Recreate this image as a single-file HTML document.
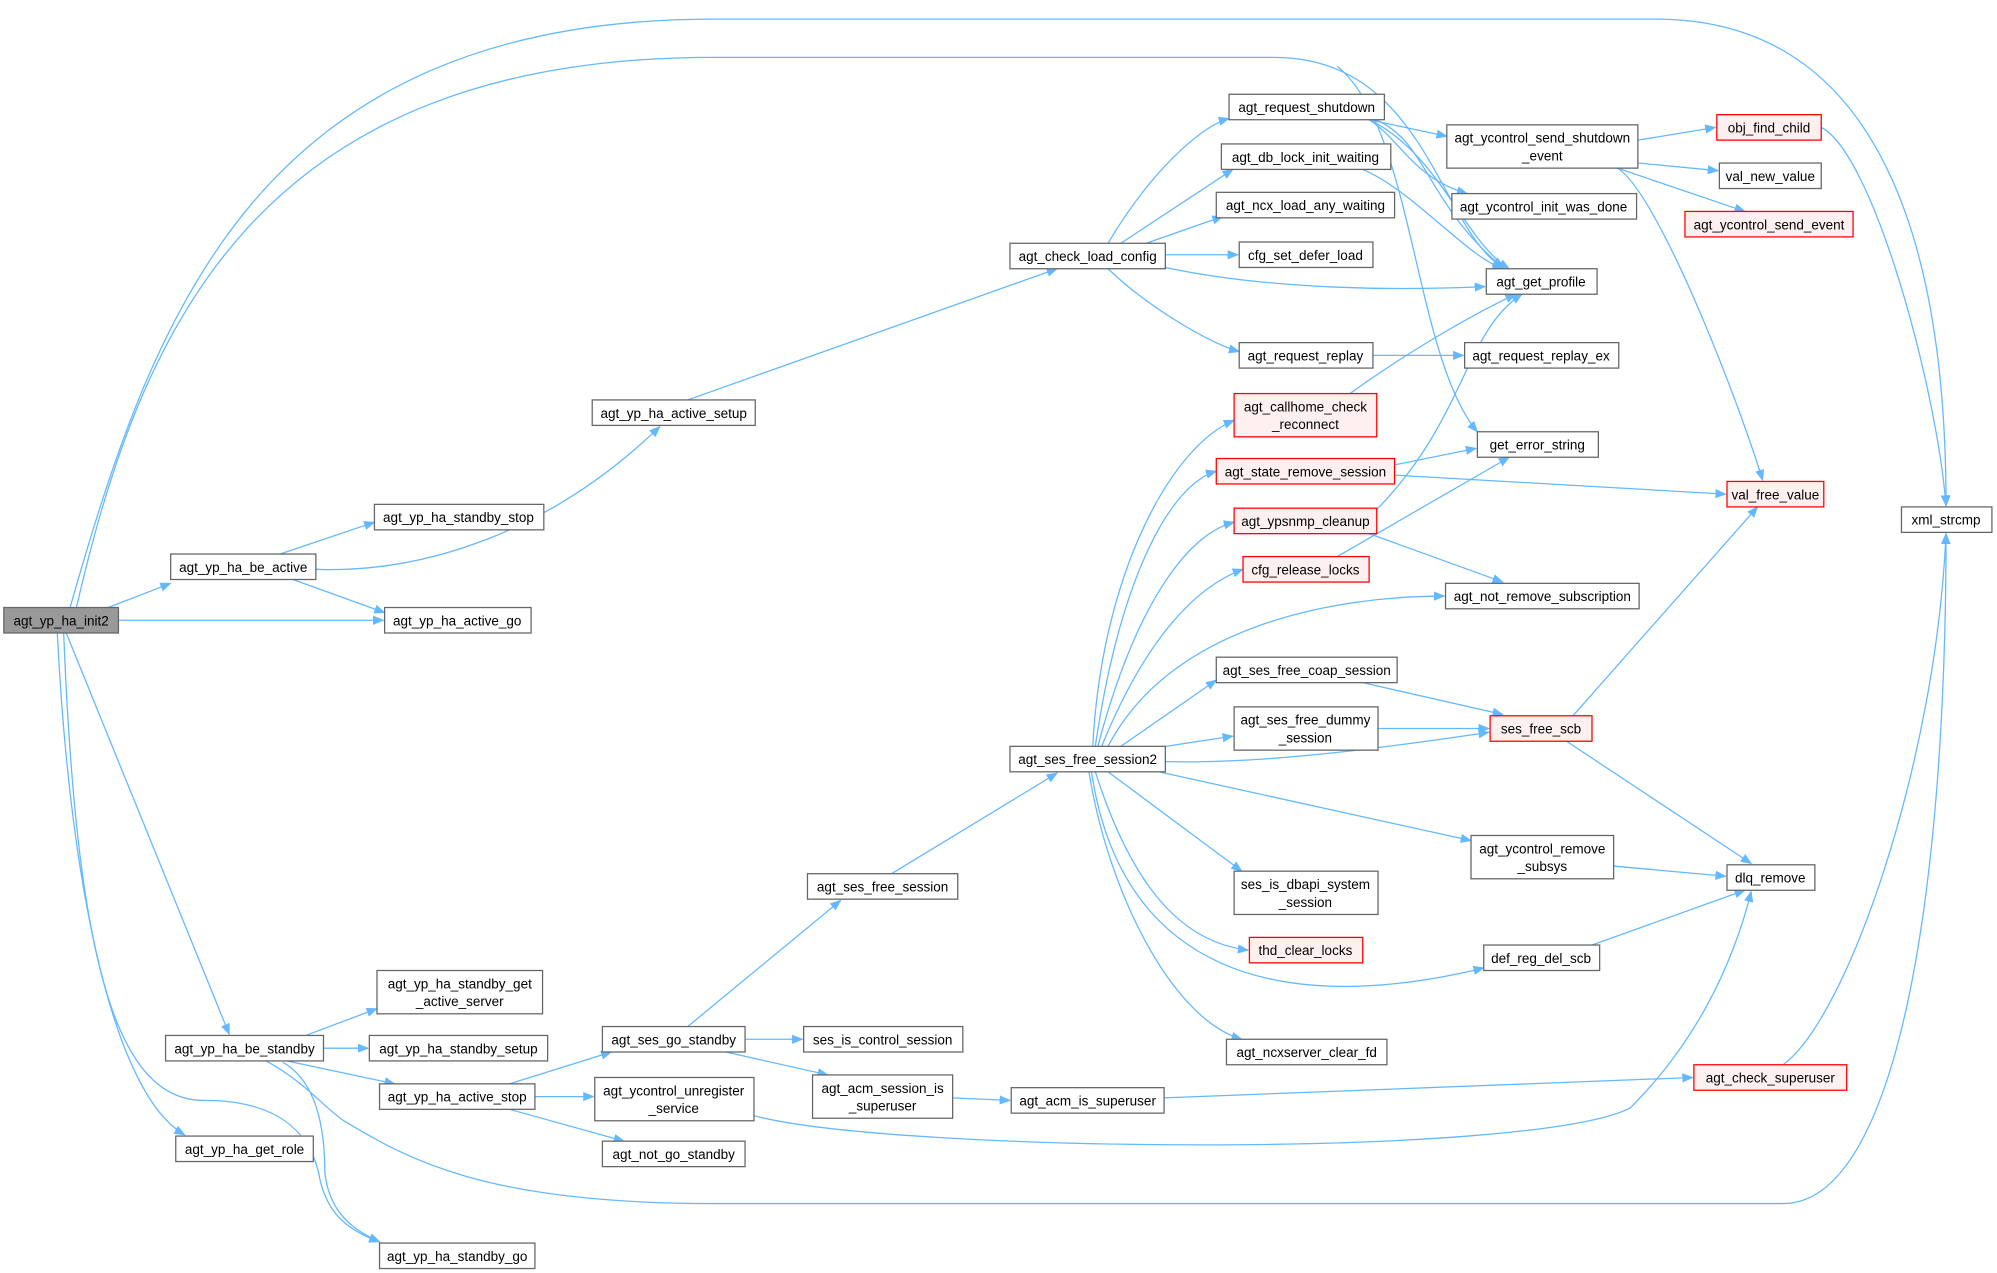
<!DOCTYPE html>
<html><head><meta charset="utf-8"><style>
html,body{margin:0;padding:0;background:#fff;}
svg{display:block}
text{font-family:"Liberation Sans",Arial,sans-serif;font-size:10.6px;fill:#000;text-anchor:middle}
.n{fill:#fff;stroke:#666;stroke-width:1}
.r{fill:#fff0f0;stroke:#f00;stroke-width:1}
.g{fill:#999;stroke:#666;stroke-width:1}
path.e{fill:none;stroke:#63b8ff;stroke-width:1}
</style></head><body>
<svg width="1997" height="1273" viewBox="0 0 1568 999.5" xmlns="http://www.w3.org/2000/svg">
<defs><marker id="a" viewBox="0 0 10 10" refX="9" refY="5" markerWidth="9" markerHeight="9" orient="auto" markerUnits="userSpaceOnUse"><path d="M0,1 L10,5 L0,9 z" fill="#63b8ff"/></marker></defs>
<g marker-end="url(#a)">
<path class="e" d="M55,477 C120,250 200,15 560,15 L1300,15 C1480,15 1528,200 1528,397"/>
<path class="e" d="M60,477 C110,260 200,45 560,45 L1000,45 C1120,45 1130,180 1180,210"/>
<path class="e" d="M85,477 L134,458"/>
<path class="e" d="M93,487 L301,487"/>
<path class="e" d="M52,497 L180,812"/>
<path class="e" d="M45,497 C55,700 90,860 145,891"/>
<path class="e" d="M50,497 C60,750 90,864 160,864 C230,864 245,900 250,920 C255,950 270,965 298,975"/>
<path class="e" d="M220,435 L294,410"/>
<path class="e" d="M248,447 C330,450 430,420 518,335"/>
<path class="e" d="M230,455 L302,481"/>
<path class="e" d="M540,314 L830,211"/>
<path class="e" d="M870,191 C900,140 940,100 965,93"/>
<path class="e" d="M880,191 L968,133"/>
<path class="e" d="M900,191 L960,170"/>
<path class="e" d="M915,200 L972,200"/>
<path class="e" d="M915,210 C1000,228 1100,228 1166,225"/>
<path class="e" d="M870,211 C900,240 950,270 973,276"/>
<path class="e" d="M1075,94 L1136,107"/>
<path class="e" d="M1075,94 C1100,110 1110,140 1152,152"/>
<path class="e" d="M1075,94 C1130,120 1150,190 1185,211"/>
<path class="e" d="M1080,94 C1120,110 1120,160 1180,210"/>
<path class="e" d="M1050,52 C1110,100 1110,280 1160,339"/>
<path class="e" d="M1070,133 C1110,150 1150,200 1180,211"/>
<path class="e" d="M1286,110 L1347,100"/>
<path class="e" d="M1286,128 L1349,134"/>
<path class="e" d="M1270,132 L1370,166"/>
<path class="e" d="M1270,132 C1300,150 1360,300 1384,377"/>
<path class="e" d="M1430,100 C1470,120 1520,300 1528,397"/>
<path class="e" d="M1078,279 L1149,279"/>
<path class="e" d="M1060,309 C1100,280 1150,250 1190,231"/>
<path class="e" d="M1095,365 L1159,352"/>
<path class="e" d="M1095,373 L1355,388"/>
<path class="e" d="M1081,400 C1150,330 1150,260 1195,231"/>
<path class="e" d="M1075,419 L1180,457"/>
<path class="e" d="M1050,437 L1185,359"/>
<path class="e" d="M1235,562 L1380,398"/>
<path class="e" d="M1230,582 L1375,678"/>
<path class="e" d="M1070,536 L1180,561"/>
<path class="e" d="M1082,572 L1169,572"/>
<path class="e" d="M1267,680 L1355,688"/>
<path class="e" d="M1250,742 L1370,699"/>
<path class="e" d="M1400,836 C1450,800 1520,600 1528,419"/>
<path class="e" d="M858,586 C865,450 920,350 969,330"/>
<path class="e" d="M860,586 C880,450 920,380 955,370"/>
<path class="e" d="M862,586 C890,480 930,420 969,410"/>
<path class="e" d="M865,586 C900,500 940,460 976,447"/>
<path class="e" d="M870,586 C920,490 1050,468 1134,468"/>
<path class="e" d="M880,586 L955,534"/>
<path class="e" d="M915,586 L968,578"/>
<path class="e" d="M915,598 C1000,600 1100,585 1169,575"/>
<path class="e" d="M910,606 L1155,660"/>
<path class="e" d="M870,606 L975,684"/>
<path class="e" d="M860,606 C890,700 930,740 980,746"/>
<path class="e" d="M857,606 C880,760 1000,800 1165,760"/>
<path class="e" d="M855,606 C870,700 920,800 975,816"/>
<path class="e" d="M700,686 L830,607"/>
<path class="e" d="M540,806 L660,707"/>
<path class="e" d="M585,816 L630,816"/>
<path class="e" d="M570,826 L650,844"/>
<path class="e" d="M748,862 L793,864"/>
<path class="e" d="M914,862 L1329,846"/>
<path class="e" d="M240,813 L296,792"/>
<path class="e" d="M254,823 L289,823"/>
<path class="e" d="M225,833 L310,851"/>
<path class="e" d="M222,834 C250,850 255,890 255,920 C258,950 275,965 298,975"/>
<path class="e" d="M209,833 C240,850 255,870 270,880 C320,910 380,945 560,945 L1400,945 C1490,945 1528,700 1528,419"/>
<path class="e" d="M400,851 L480,826"/>
<path class="e" d="M420,861 L466,861"/>
<path class="e" d="M400,871 L490,896"/>
<path class="e" d="M592,876 C700,905 1200,910 1280,870 C1330,820 1360,760 1375,700"/>
</g>
<g>
<rect class="g" x="3" y="477" width="90" height="20"/><text x="48" y="491">agt_yp_ha_init2</text>
<rect class="n" x="134" y="435" width="114" height="20"/><text x="191" y="449">agt_yp_ha_be_active</text>
<rect class="n" x="294" y="396" width="133" height="20"/><text x="360" y="410">agt_yp_ha_standby_stop</text>
<rect class="n" x="302" y="477" width="115" height="20"/><text x="359" y="491">agt_yp_ha_active_go</text>
<rect class="n" x="465" y="314" width="128" height="20"/><text x="529" y="328">agt_yp_ha_active_setup</text>
<rect class="n" x="793" y="191" width="122" height="20"/><text x="854" y="205">agt_check_load_config</text>
<rect class="n" x="965" y="74" width="122" height="20"/><text x="1026" y="88">agt_request_shutdown</text>
<rect class="n" x="959" y="113" width="133" height="20"/><text x="1025" y="127">agt_db_lock_init_waiting</text>
<rect class="n" x="955" y="151" width="140" height="20"/><text x="1025" y="165">agt_ncx_load_any_waiting</text>
<rect class="n" x="973" y="190" width="105" height="20"/><text x="1025" y="204">cfg_set_defer_load</text>
<rect class="n" x="973" y="269" width="105" height="20"/><text x="1025" y="283">agt_request_replay</text>
<rect class="n" x="1136" y="98" width="150" height="34"/><text x="1211" y="112">agt_ycontrol_send_shutdown</text><text x="1211" y="126">_event</text>
<rect class="n" x="1140" y="152" width="145" height="20"/><text x="1212" y="166">agt_ycontrol_init_was_done</text>
<rect class="n" x="1167" y="211" width="87" height="20"/><text x="1210" y="225">agt_get_profile</text>
<rect class="n" x="1150" y="269" width="121" height="20"/><text x="1210" y="283">agt_request_replay_ex</text>
<rect class="r" x="1348" y="90" width="82" height="20"/><text x="1389" y="104">obj_find_child</text>
<rect class="n" x="1350" y="128" width="80" height="20"/><text x="1390" y="142">val_new_value</text>
<rect class="r" x="1323" y="166" width="132" height="20"/><text x="1389" y="180">agt_ycontrol_send_event</text>
<rect class="r" x="969" y="309" width="112" height="34"/><text x="1025" y="323">agt_callhome_check</text><text x="1025" y="337">_reconnect</text>
<rect class="r" x="955" y="360" width="140" height="20"/><text x="1025" y="374">agt_state_remove_session</text>
<rect class="r" x="969" y="399" width="112" height="20"/><text x="1025" y="413">agt_ypsnmp_cleanup</text>
<rect class="r" x="976" y="437" width="99" height="20"/><text x="1025" y="451">cfg_release_locks</text>
<rect class="n" x="1160" y="339" width="95" height="20"/><text x="1207" y="353">get_error_string</text>
<rect class="r" x="1356" y="378" width="76" height="20"/><text x="1394" y="392">val_free_value</text>
<rect class="n" x="1493" y="398" width="71" height="20"/><text x="1528" y="412">xml_strcmp</text>
<rect class="n" x="1135" y="458" width="152" height="20"/><text x="1211" y="472">agt_not_remove_subscription</text>
<rect class="n" x="955" y="516" width="142" height="20"/><text x="1026" y="530">agt_ses_free_coap_session</text>
<rect class="n" x="969" y="555" width="113" height="34"/><text x="1025" y="569">agt_ses_free_dummy</text><text x="1025" y="583">_session</text>
<rect class="r" x="1170" y="562" width="80" height="20"/><text x="1210" y="576">ses_free_scb</text>
<rect class="n" x="793" y="586" width="122" height="20"/><text x="854" y="600">agt_ses_free_session2</text>
<rect class="n" x="1155" y="656" width="112" height="34"/><text x="1211" y="670">agt_ycontrol_remove</text><text x="1211" y="684">_subsys</text>
<rect class="n" x="1356" y="679" width="69" height="20"/><text x="1390" y="693">dlq_remove</text>
<rect class="n" x="969" y="684" width="113" height="34"/><text x="1025" y="698">ses_is_dbapi_system</text><text x="1025" y="712">_session</text>
<rect class="r" x="981" y="736" width="89" height="20"/><text x="1025" y="750">thd_clear_locks</text>
<rect class="n" x="1165" y="742" width="91" height="20"/><text x="1210" y="756">def_reg_del_scb</text>
<rect class="n" x="963" y="816" width="126" height="20"/><text x="1026" y="830">agt_ncxserver_clear_fd</text>
<rect class="n" x="634" y="686" width="118" height="20"/><text x="693" y="700">agt_ses_free_session</text>
<rect class="n" x="473" y="806" width="112" height="20"/><text x="529" y="820">agt_ses_go_standby</text>
<rect class="n" x="631" y="806" width="125" height="20"/><text x="693" y="820">ses_is_control_session</text>
<rect class="n" x="638" y="844" width="110" height="34"/><text x="693" y="858">agt_acm_session_is</text><text x="693" y="872">_superuser</text>
<rect class="n" x="794" y="854" width="120" height="20"/><text x="854" y="868">agt_acm_is_superuser</text>
<rect class="r" x="1330" y="836" width="120" height="20"/><text x="1390" y="850">agt_check_superuser</text>
<rect class="n" x="296" y="762" width="130" height="34"/><text x="361" y="776">agt_yp_ha_standby_get</text><text x="361" y="790">_active_server</text>
<rect class="n" x="290" y="813" width="140" height="20"/><text x="360" y="827">agt_yp_ha_standby_setup</text>
<rect class="n" x="130" y="813" width="124" height="20"/><text x="192" y="827">agt_yp_ha_be_standby</text>
<rect class="n" x="298" y="851" width="122" height="20"/><text x="359" y="865">agt_yp_ha_active_stop</text>
<rect class="n" x="467" y="846" width="125" height="34"/><text x="529" y="860">agt_ycontrol_unregister</text><text x="529" y="874">_service</text>
<rect class="n" x="473" y="896" width="112" height="20"/><text x="529" y="910">agt_not_go_standby</text>
<rect class="n" x="138" y="892" width="108" height="20"/><text x="192" y="906">agt_yp_ha_get_role</text>
<rect class="n" x="298" y="976" width="122" height="20"/><text x="359" y="990">agt_yp_ha_standby_go</text>
</g>
</svg>
</body></html>
